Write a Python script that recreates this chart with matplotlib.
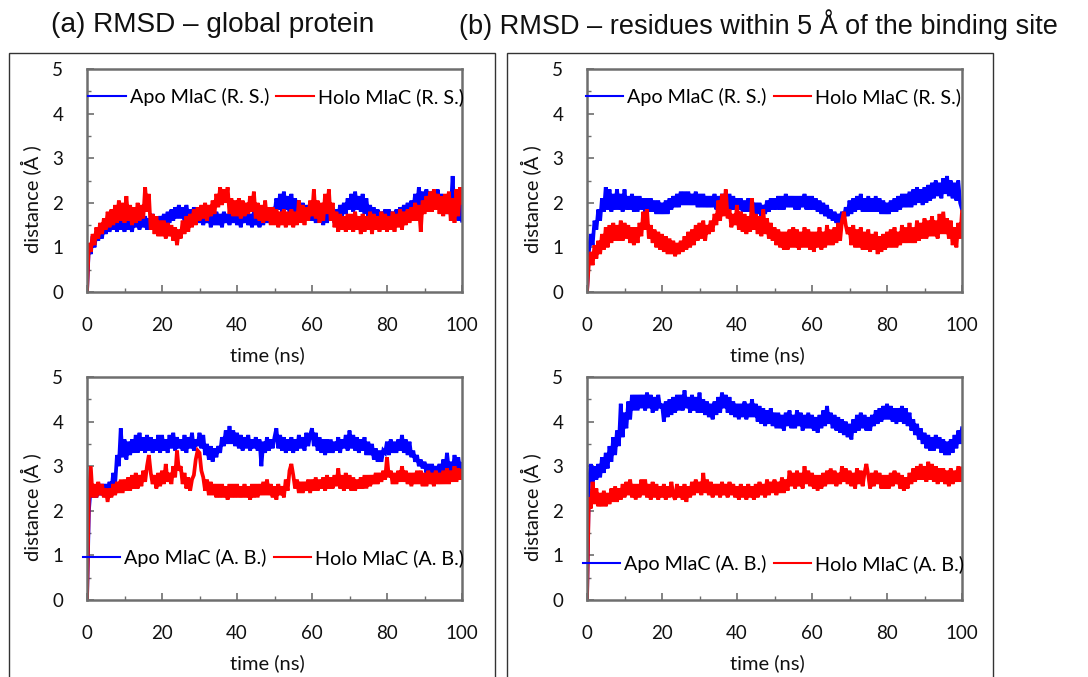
import numpy as np
import matplotlib
matplotlib.use("Agg")
import matplotlib.pyplot as plt
from matplotlib.lines import Line2D
from matplotlib.patches import Rectangle
from matplotlib.ticker import MultipleLocator

# time axis: 0 to 100 ns, every 0.5 ns
time_ns = np.arange(201) * 0.5

# (a) global protein, R. S.
apo_global_rs = [
    0, 1.05, 0.85, 1.25, 1.0, 1.35, 1.15, 1.45, 1.2, 1.55,
    1.3, 1.65, 1.35, 1.6, 1.4, 1.7, 1.35, 1.65, 1.4, 1.6,
    1.35, 1.7, 1.4, 1.6, 1.35, 1.65, 1.45, 1.7, 1.4, 1.75,
    1.45, 1.7, 1.4, 1.65, 1.45, 1.75, 1.4, 1.6, 1.45, 1.7,
    1.5, 1.75, 1.45, 1.8, 1.55, 1.85, 1.6, 1.9, 1.65, 1.95,
    1.65, 1.9, 1.6, 1.95, 1.7, 1.85, 1.6, 1.9, 1.65, 1.85,
    1.55, 1.8, 1.5, 1.75, 1.55, 1.8, 1.45, 1.75, 1.5, 1.8,
    1.5, 1.75, 1.45, 1.8, 1.55, 1.75, 1.5, 1.8, 1.55, 1.85,
    1.5, 1.8, 1.45, 1.75, 1.55, 1.8, 1.5, 1.75, 1.45, 1.8,
    1.5, 1.75, 1.45, 1.8, 1.5, 1.85, 1.55, 1.8, 1.6, 1.9,
    1.75, 2.1, 1.85, 2.2, 1.8, 2.25, 1.85, 2.15, 1.8, 2.2,
    1.8, 2.1, 1.75, 2.05, 1.7, 2.0, 1.65, 1.95, 1.6, 1.9,
    1.6, 1.85, 1.55, 1.9, 1.6, 1.85, 1.5, 1.9, 1.55, 1.85,
    1.6, 1.9, 1.55, 1.85, 1.65, 1.95, 1.7, 2.0, 1.75, 2.1,
    1.85, 2.2, 1.8, 2.25, 1.85, 2.15, 1.8, 2.2, 1.75, 2.1,
    1.7, 1.95, 1.6, 1.9, 1.6, 1.85, 1.55, 1.8, 1.6, 1.85,
    1.55, 1.85, 1.6, 1.8, 1.55, 1.85, 1.6, 1.9, 1.65, 1.95,
    1.7, 2.0, 1.75, 2.05, 1.8, 2.2, 1.85, 2.35, 1.9, 2.25,
    1.85, 2.3, 1.9, 2.25, 1.85, 2.2, 1.9, 2.3, 1.85, 2.2,
    1.8, 2.15, 1.75, 2.1, 1.8, 2.6, 1.7, 2.2, 1.6, 2.05,
    1.6]
holo_global_rs = [
    0, 1.1, 0.9, 1.3, 1.05, 1.45, 1.2, 1.55, 1.3, 1.65,
    1.4, 1.8, 1.45, 1.85, 1.5, 1.95, 1.55, 2.05, 1.6, 2.0,
    1.55, 2.15, 1.6, 1.95, 1.5, 1.9, 1.55, 2.0, 1.6, 1.95,
    1.65, 2.35, 1.8, 2.2, 1.4, 1.75, 1.3, 1.7, 1.25, 1.6,
    1.25, 1.6, 1.2, 1.55, 1.25, 1.5, 1.15, 1.45, 1.05, 1.4,
    1.2, 1.6, 1.3, 1.7, 1.35, 1.75, 1.45, 1.85, 1.5, 1.9,
    1.6, 1.95, 1.65, 2.0, 1.6, 1.95, 1.7, 2.05, 1.75, 2.2,
    1.9, 2.35, 1.95, 2.3, 2.0, 2.35, 1.75, 2.1, 1.7, 2.05,
    1.7, 2.1, 1.65, 2.05, 1.7, 2.0, 1.75, 2.15, 1.8, 2.25,
    1.65, 2.0, 1.6, 1.95, 1.55, 2.05, 1.6, 1.9, 1.5, 1.9,
    1.5, 1.85, 1.45, 1.8, 1.5, 1.85, 1.45, 1.8, 1.5, 1.85,
    1.45, 1.8, 1.5, 2.05, 1.55, 1.95, 1.5, 1.9, 1.6, 2.05,
    1.7, 2.3, 1.65, 2.05, 1.55, 2.0, 1.6, 2.2, 1.75, 2.3,
    1.6, 2.0, 1.45, 1.8, 1.35, 1.75, 1.4, 1.7, 1.35, 1.75,
    1.4, 1.75, 1.35, 1.8, 1.4, 1.7, 1.3, 1.75, 1.35, 1.7,
    1.4, 1.8, 1.3, 1.75, 1.4, 1.7, 1.35, 1.8, 1.4, 1.75,
    1.35, 1.7, 1.4, 1.8, 1.35, 1.75, 1.45, 1.85, 1.4, 1.8,
    1.5, 1.85, 1.55, 1.9, 1.6, 2.0, 1.6, 1.95, 1.35, 2.05,
    1.75, 2.15, 1.8, 2.25, 1.8, 2.3, 1.85, 2.2, 1.75, 2.15,
    1.7, 2.2, 1.75, 2.25, 1.6, 2.1, 1.55, 2.3, 1.7, 2.35,
    2.0]

# (a) global protein, A. B.
apo_global_ab = [
    0, 2.0, 2.55, 2.3, 2.55, 2.3, 2.6, 2.35, 2.6, 2.35,
    2.6, 2.35, 2.65, 2.45, 2.85, 2.6, 3.25, 3.0, 3.85, 3.2,
    3.6, 3.15, 3.55, 3.25, 3.6, 3.3, 3.7, 3.3, 3.75, 3.35,
    3.65, 3.3, 3.7, 3.35, 3.65, 3.3, 3.6, 3.35, 3.7, 3.3,
    3.7, 3.35, 3.6, 3.3, 3.7, 3.4, 3.75, 3.35, 3.65, 3.4,
    3.6, 3.35, 3.7, 3.3, 3.65, 3.4, 3.75, 3.35, 3.6, 3.45,
    3.75, 3.4, 3.7, 3.25, 3.5, 3.15, 3.45, 3.1, 3.4, 3.2,
    3.45, 3.3, 3.65, 3.45, 3.8, 3.5, 3.9, 3.5, 3.8, 3.45,
    3.75, 3.4, 3.7, 3.35, 3.65, 3.4, 3.7, 3.35, 3.6, 3.4,
    3.65, 3.35, 3.6, 3.0, 3.55, 3.3, 3.65, 3.35, 3.6, 3.4,
    3.65, 3.85, 3.4, 3.7, 3.35, 3.65, 3.3, 3.6, 3.35, 3.65,
    3.3, 3.6, 3.35, 3.7, 3.4, 3.65, 3.35, 3.75, 3.45, 3.7,
    3.85, 3.45, 3.75, 3.35, 3.65, 3.3, 3.6, 3.25, 3.6, 3.3,
    3.6, 3.3, 3.55, 3.35, 3.65, 3.3, 3.6, 3.4, 3.7, 3.35,
    3.8, 3.4, 3.7, 3.35, 3.65, 3.3, 3.6, 3.35, 3.65, 3.25,
    3.55, 3.25, 3.5, 3.15, 3.4, 3.1, 3.35, 3.1, 3.35, 3.3,
    3.55, 3.25, 3.6, 3.3, 3.55, 3.3, 3.6, 3.35, 3.7, 3.3,
    3.6, 3.25, 3.55, 3.2, 3.35, 3.1, 3.25, 3.0, 3.15, 2.95,
    3.1, 2.85, 3.05, 2.8, 3.05, 2.8, 3.0, 2.85, 3.05, 2.8,
    3.15, 2.85, 3.3, 2.9, 3.1, 2.85, 3.25, 2.95, 3.2, 2.9,
    3.05]
holo_global_ab = [
    0, 2.3, 3.0, 2.3, 2.6, 2.3, 2.65, 2.35, 2.6, 2.3,
    2.5, 2.2, 2.5, 2.3, 2.6, 2.35, 2.65, 2.4, 2.7, 2.4,
    2.7, 2.45, 2.75, 2.45, 2.8, 2.5, 2.85, 2.5, 2.8, 2.55,
    2.9, 2.65, 3.0, 3.25, 2.85, 2.6, 2.8, 2.5, 2.85, 2.55,
    2.9, 2.6, 3.05, 2.65, 2.85, 2.6, 3.0, 2.75, 3.35, 2.9,
    3.0, 2.6, 2.85, 2.5, 2.75, 2.45, 2.7, 2.8, 3.15, 3.35,
    3.3, 2.9, 2.75, 2.45, 2.7, 2.35, 2.65, 2.35, 2.6, 2.3,
    2.6, 2.3, 2.6, 2.3, 2.55, 2.25, 2.6, 2.3, 2.6, 2.3,
    2.6, 2.3, 2.55, 2.3, 2.6, 2.3, 2.55, 2.25, 2.6, 2.3,
    2.6, 2.3, 2.6, 2.35, 2.65, 2.35, 2.7, 2.35, 2.6, 2.3,
    2.55, 2.25, 2.6, 2.35, 2.55, 2.3, 2.7, 2.45, 2.9, 3.05,
    2.8, 2.5, 2.7, 2.4, 2.65, 2.4, 2.65, 2.45, 2.7, 2.4,
    2.7, 2.45, 2.75, 2.45, 2.7, 2.5, 2.75, 2.45, 2.8, 2.5,
    2.75, 2.5, 2.8, 2.55, 2.95, 2.5, 2.8, 2.45, 2.85, 2.5,
    2.8, 2.45, 2.75, 2.45, 2.7, 2.5, 2.75, 2.5, 2.8, 2.5,
    2.8, 2.55, 2.8, 2.6, 2.85, 2.6, 2.85, 2.65, 2.9, 2.7,
    3.2, 2.75, 2.9, 2.6, 2.85, 2.6, 2.9, 2.65, 3.0, 2.65,
    2.9, 2.6, 2.85, 2.55, 2.85, 2.6, 2.9, 2.6, 2.9, 2.55,
    2.85, 2.55, 2.9, 2.6, 2.85, 2.55, 2.9, 2.6, 2.85, 2.6,
    2.9, 2.6, 2.95, 2.6, 2.9, 2.65, 3.0, 2.65, 2.95, 2.7,
    2.9]

# (b) binding-site residues, R. S.
apo_site_rs = [
    0, 0.9, 1.3, 1.05, 1.6, 1.4, 1.85, 1.6, 2.1, 1.8,
    2.35, 1.85, 2.3, 1.8, 2.2, 1.85, 2.3, 1.85, 2.2, 1.8,
    2.3, 1.85, 2.15, 1.85, 2.2, 1.8, 2.15, 1.8, 2.15, 1.85,
    2.1, 1.8, 2.1, 1.8, 2.1, 1.8, 2.05, 1.75, 2.05, 1.75,
    2.0, 1.75, 2.05, 1.75, 2.1, 1.85, 2.15, 1.9, 2.2, 1.9,
    2.25, 1.95, 2.25, 1.95, 2.25, 1.95, 2.2, 1.95, 2.25, 1.9,
    2.2, 1.9, 2.2, 1.9, 2.15, 1.9, 2.15, 1.9, 2.2, 1.85,
    2.15, 1.85, 2.2, 1.85, 2.15, 1.85, 2.2, 1.85, 2.15, 1.85,
    2.1, 1.85, 2.1, 1.8, 2.05, 1.8, 2.1, 1.8, 2.05, 1.75,
    2.0, 1.75, 2.0, 1.7, 1.95, 1.75, 2.05, 1.8, 2.1, 1.85,
    2.1, 1.85, 2.15, 1.85, 2.15, 1.85, 2.2, 1.9, 2.15, 1.9,
    2.15, 1.85, 2.15, 1.85, 2.15, 1.9, 2.2, 1.85, 2.15, 1.85,
    2.15, 1.85, 2.1, 1.8, 2.05, 1.75, 2.0, 1.7, 1.95, 1.65,
    1.85, 1.6, 1.8, 1.55, 1.75, 1.55, 1.8, 1.65, 1.9, 1.7,
    2.05, 1.75, 2.1, 1.8, 2.15, 1.85, 2.2, 1.8, 2.1, 1.8,
    2.15, 1.8, 2.1, 1.8, 2.15, 1.8, 2.1, 1.75, 2.05, 1.75,
    2.0, 1.75, 2.05, 1.8, 2.1, 1.8, 2.15, 1.85, 2.2, 1.9,
    2.2, 1.9, 2.25, 1.9, 2.3, 1.95, 2.35, 2.0, 2.3, 1.95,
    2.35, 2.0, 2.4, 2.05, 2.45, 2.1, 2.5, 2.15, 2.45, 2.1,
    2.55, 2.2, 2.6, 2.15, 2.5, 2.1, 2.45, 2.05, 2.5, 2.0,
    1.85]
holo_site_rs = [
    0, 0.65, 0.9, 0.6, 1.05, 0.75, 1.15, 0.85, 1.3, 0.95,
    1.45, 1.0, 1.5, 1.1, 1.55, 1.15, 1.5, 1.15, 1.6, 1.15,
    1.55, 1.2, 1.5, 1.1, 1.45, 1.05, 1.45, 1.1, 1.55, 1.25,
    1.8, 1.4, 1.85, 1.2, 1.5, 1.1, 1.4, 1.0, 1.35, 0.95,
    1.3, 0.9, 1.25, 0.85, 1.2, 0.85, 1.15, 0.8, 1.1, 0.85,
    1.15, 0.9, 1.25, 0.95, 1.35, 1.0, 1.4, 1.05, 1.5, 1.15,
    1.55, 1.2, 1.6, 1.15, 1.5, 1.3, 1.6, 1.35, 1.75, 1.5,
    2.05, 1.6, 2.2, 1.7, 2.3, 1.65, 1.85, 1.45, 1.75, 1.5,
    1.95, 1.4, 1.8, 1.35, 1.75, 1.3, 1.7, 1.35, 2.1, 1.4,
    1.75, 1.3, 1.7, 1.25, 1.85, 1.3, 1.65, 1.2, 1.55, 1.15,
    1.45, 1.05, 1.4, 1.0, 1.35, 0.95, 1.35, 0.95, 1.4, 1.0,
    1.45, 1.0, 1.4, 0.95, 1.35, 1.0, 1.45, 1.0, 1.4, 0.95,
    1.35, 0.9, 1.35, 1.0, 1.45, 0.95, 1.35, 1.0, 1.5, 1.05,
    1.4, 1.05, 1.45, 1.1, 1.55, 1.15, 1.6, 1.8, 1.5, 1.3,
    1.45, 1.05, 1.5, 1.0, 1.4, 1.0, 1.45, 0.95, 1.35, 0.95,
    1.4, 0.9, 1.3, 0.95, 1.35, 0.85, 1.25, 0.9, 1.3, 0.95,
    1.35, 1.0, 1.4, 1.0, 1.45, 1.0, 1.35, 1.05, 1.5, 1.1,
    1.45, 1.1, 1.55, 1.1, 1.45, 1.1, 1.6, 1.15, 1.55, 1.2,
    1.65, 1.2, 1.6, 1.25, 1.7, 1.25, 1.6, 1.2, 1.75, 1.3,
    1.8, 1.3, 1.65, 1.2, 1.6, 1.05, 1.45, 1.0, 1.55, 1.2,
    1.8]

# (b) binding-site residues, A. B.
apo_site_ab = [
    0, 2.6, 3.05, 2.65, 3.0, 2.7, 3.05, 2.75, 3.2, 2.85,
    3.3, 2.95, 3.45, 3.1, 3.65, 3.25, 3.8, 3.45, 4.4, 3.65,
    4.2, 3.85, 4.45, 4.05, 4.6, 4.25, 4.6, 4.25, 4.6, 4.3,
    4.6, 4.25, 4.65, 4.3, 4.6, 4.2, 4.55, 4.25, 4.6, 4.3,
    4.4, 4.0, 4.45, 4.1, 4.5, 4.15, 4.55, 4.2, 4.6, 4.25,
    4.6, 4.25, 4.7, 4.3, 4.55, 4.2, 4.6, 4.25, 4.55, 4.2,
    4.65, 4.2, 4.5, 4.15, 4.45, 4.1, 4.4, 4.05, 4.45, 4.15,
    4.55, 4.2, 4.65, 4.3, 4.6, 4.2, 4.55, 4.15, 4.45, 4.1,
    4.4, 4.05, 4.4, 4.1, 4.45, 4.05, 4.4, 4.1, 4.5, 4.1,
    4.4, 4.0, 4.35, 3.95, 4.3, 3.9, 4.25, 3.95, 4.3, 3.9,
    4.2, 3.85, 4.2, 3.85, 4.15, 3.8, 4.2, 3.9, 4.25, 3.85,
    4.15, 3.85, 4.25, 3.9, 4.2, 3.8, 4.15, 3.85, 4.2, 3.85,
    4.15, 3.8, 4.1, 3.75, 4.15, 3.85, 4.25, 3.9, 4.35, 3.95,
    4.2, 3.85, 4.15, 3.8, 4.1, 3.75, 4.05, 3.7, 4.0, 3.65,
    3.95, 3.6, 4.05, 3.75, 4.15, 3.8, 4.2, 3.85, 4.15, 3.8,
    4.1, 3.8, 4.15, 3.9, 4.25, 3.95, 4.3, 4.0, 4.35, 4.05,
    4.4, 4.05, 4.35, 4.0, 4.3, 3.95, 4.3, 4.0, 4.35, 3.95,
    4.3, 3.9, 4.2, 3.8, 4.05, 3.7, 3.95, 3.6, 3.85, 3.5,
    3.75, 3.4, 3.7, 3.35, 3.65, 3.35, 3.7, 3.4, 3.65, 3.3,
    3.6, 3.25, 3.55, 3.25, 3.6, 3.3, 3.7, 3.4, 3.8, 3.5,
    3.85]
holo_site_ab = [
    0, 2.3, 2.05, 2.65, 2.15, 2.5, 2.1, 2.4, 2.1, 2.45,
    2.1, 2.4, 2.15, 2.5, 2.2, 2.55, 2.2, 2.5, 2.25, 2.6,
    2.3, 2.65, 2.35, 2.7, 2.3, 2.6, 2.25, 2.6, 2.3, 2.7,
    2.35, 2.7, 2.3, 2.6, 2.25, 2.65, 2.3, 2.6, 2.25, 2.55,
    2.3, 2.6, 2.25, 2.55, 2.3, 2.65, 2.35, 2.25, 2.6, 2.3,
    2.55, 2.25, 2.6, 2.2, 2.55, 2.3, 2.65, 2.35, 2.7, 2.4,
    2.65, 2.35, 2.85, 2.4, 2.7, 2.35, 2.65, 2.3, 2.6, 2.35,
    2.6, 2.3, 2.65, 2.35, 2.6, 2.3, 2.65, 2.35, 2.6, 2.3,
    2.55, 2.25, 2.6, 2.3, 2.55, 2.25, 2.6, 2.3, 2.55, 2.25,
    2.6, 2.3, 2.65, 2.35, 2.6, 2.3, 2.7, 2.35, 2.65, 2.4,
    2.7, 2.35, 2.65, 2.4, 2.75, 2.4, 2.7, 2.45, 2.9, 2.55,
    2.85, 2.5, 2.9, 2.55, 2.85, 2.5, 3.0, 2.6, 2.9, 2.55,
    2.85, 2.5, 2.8, 2.45, 2.8, 2.5, 2.85, 2.55, 2.9, 2.6,
    2.95, 2.6, 2.9, 2.55, 2.85, 2.6, 3.0, 2.65, 2.95, 2.6,
    2.9, 2.55, 2.85, 2.5, 2.95, 2.6, 2.9, 2.55, 2.85, 3.05,
    2.8, 2.5, 2.85, 2.55, 2.9, 2.6, 2.85, 2.5, 2.8, 2.5,
    2.8, 2.5, 2.85, 2.55, 2.9, 2.6, 2.85, 2.5, 2.8, 2.45,
    2.75, 2.5, 2.85, 2.6, 2.95, 2.65, 3.0, 2.7, 3.05, 2.7,
    3.0, 2.65, 3.1, 2.7, 3.05, 2.65, 3.0, 2.6, 2.95, 2.65,
    2.95, 2.6, 2.9, 2.55, 2.95, 2.6, 2.9, 2.65, 3.0, 2.65,
    2.95]

panel_titles = ["(a) RMSD \u2013 global protein",
                "(b) RMSD \u2013 residues within 5 \u00c5 of the binding site"]
legend_labels = [["Apo MlaC (R. S.)", "Holo MlaC (R. S.)"],
                 ["Apo MlaC (A. B.)", "Holo MlaC (A. B.)"]]
x_ticks = [0, 20, 40, 60, 80, 100]
y_ticks = [0, 1, 2, 3, 4, 5]
x_label = "time (ns)"
y_label = "distance (\u00c5 )"

BLUE = "#0000FF"
RED = "#FF0000"
FRAME = "#6e6e6e"
TICK_FONT = "Lato"

W, H = 1088, 677
fig = plt.figure(figsize=(W / 100, H / 100), dpi=100)

def fx(px):
    return px / W

def fy(py):
    return 1 - py / H

# outer boxes
for x0, x1 in [(9, 495), (507, 993)]:
    fig.patches.append(Rectangle((fx(x0), fy(690)), fx(x1) - fx(x0), fy(53) - fy(690),
                                 transform=fig.transFigure, fill=False,
                                 edgecolor="#333333", linewidth=1.0))

fig.text(fx(213), fy(25), panel_titles[0], ha="center", va="center",
         fontsize=20.2, family="Liberation Sans", color="#111111")
fig.text(fx(758), fy(25), panel_titles[1], ha="center", va="center",
         fontsize=19.5, family="Liberation Sans", color="#111111")

panels = [
    ((87, 462), (69, 292), apo_global_rs, holo_global_rs, 0, (0.504, 0.874)),
    ((87, 462), (377, 600), apo_global_ab, holo_global_ab, 1, (0.497, 0.188)),
    ((587, 962), (69, 292), apo_site_rs, holo_site_rs, 0, (0.497, 0.874)),
    ((587, 962), (377, 600), apo_site_ab, holo_site_ab, 1, (0.497, 0.161)),
]

for (xl, xr), (yt, yb), apo, holo, li, lpos in panels:
    ax = fig.add_axes([fx(xl), fy(yb), fx(xr) - fx(xl), fy(yt) - fy(yb)])
    ax.plot(time_ns, apo, color=BLUE, lw=2.7, solid_joinstyle="miter")
    ax.plot(time_ns, holo, color=RED, lw=2.7, solid_joinstyle="miter")
    ax.set_xlim(0, 100)
    ax.set_ylim(0, 5)
    ax.set_xticks(x_ticks)
    ax.set_yticks(y_ticks)
    ax.xaxis.set_minor_locator(MultipleLocator(10))
    ax.yaxis.set_minor_locator(MultipleLocator(0.5))
    ax.tick_params(which="both", direction="in", color=FRAME, top=False, right=False)
    ax.tick_params(which="major", length=5, width=1.2)
    ax.tick_params(which="minor", length=3, width=1.0)
    ax.tick_params(axis="x", pad=18, labelsize=13.5)
    ax.tick_params(axis="y", pad=17, labelsize=13.5)
    for lab in ax.get_xticklabels() + ax.get_yticklabels():
        lab.set_family(TICK_FONT)
        lab.set_color("#111111")
    for sp in ax.spines.values():
        sp.set_color(FRAME)
        sp.set_linewidth(1.8)
    ax.set_xlabel(x_label, family=TICK_FONT, fontsize=14.5, color="#111111")
    ax.set_ylabel(y_label, family=TICK_FONT, fontsize=14.5, color="#111111")
    ax.xaxis.set_label_coords(0.48, -0.245)
    ax.yaxis.set_label_coords(-0.123, 0.415)
    handles = [Line2D([], [], color=BLUE, lw=1.5), Line2D([], [], color=RED, lw=1.5)]
    leg = ax.legend(handles, legend_labels[li], loc="center", bbox_to_anchor=lpos,
                    ncol=2, frameon=False, handlelength=1.9, handletextpad=0.2,
                    columnspacing=0.35, borderaxespad=0,
                    prop={"family": TICK_FONT, "size": 14.2})

fig.savefig("out.png", dpi=100)
